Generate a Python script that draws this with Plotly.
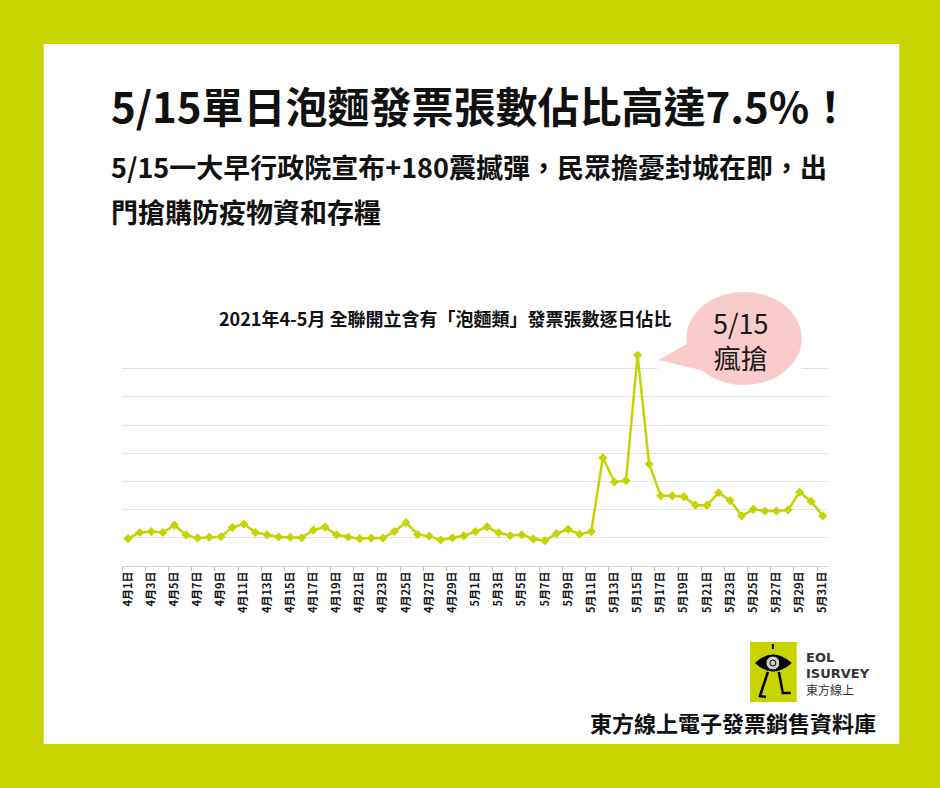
import pandas as pd
import plotly.graph_objects as go

# daily share (%) of PX Mart invoices containing instant noodles, 2021-04-01 .. 2021-05-31
dates = pd.date_range("2021-04-01", "2021-05-31", freq="D")
share_pct = [
    0.97, 1.19, 1.22, 1.19, 1.45, 1.10, 0.99, 1.02, 1.04, 1.37,
    1.49, 1.19, 1.11, 1.03, 1.02, 1.00, 1.28, 1.38, 1.11, 1.03,
    0.97, 0.99, 0.99, 1.23, 1.54, 1.12, 1.06, 0.92, 1.00, 1.07,
    1.22, 1.39, 1.18, 1.08, 1.11, 0.96, 0.90, 1.15, 1.30, 1.13,
    1.22, 3.84, 2.98, 3.03, 7.48, 3.62, 2.49, 2.49, 2.46, 2.16,
    2.16, 2.60, 2.32, 1.78, 2.01, 1.95, 1.95, 1.99, 2.62, 2.29,
    1.78,
]
tick_dates = dates[::2]
tick_labels = [
    "4月1日", "4月3日", "4月5日", "4月7日", "4月9日", "4月11日", "4月13日", "4月15日",
    "4月17日", "4月19日", "4月21日", "4月23日", "4月25日", "4月27日", "4月29日",
    "5月1日", "5月3日", "5月5日", "5月7日", "5月9日", "5月11日", "5月13日", "5月15日",
    "5月17日", "5月19日", "5月21日", "5月23日", "5月25日", "5月27日", "5月29日", "5月31日",
]

W, H = 940, 788
LIME = "#C8D400"
FONT = "Noto Sans CJK TC"


def px(x):
    return x / W


def py(y):
    return 1 - y / H


fig = go.Figure()
fig.add_trace(go.Scatter(
    x=dates, y=share_pct, mode="lines+markers",
    line=dict(color="#C5D300", width=2.5),
    marker=dict(symbol="diamond", size=7, color="#C5D300"),
    hoverinfo="x+y", showlegend=False,
))

shapes = [
    # white card
    dict(type="rect", xref="paper", yref="paper", layer="below",
         x0=px(40), x1=px(900), y0=py(744), y1=py(44),
         fillcolor="white", line=dict(width=0)),
    # white patch behind the bubble (hides gridlines)
    dict(type="rect", xref="paper", yref="paper", layer="above",
         x0=px(657), x1=px(802), y0=py(380), y1=py(332),
         fillcolor="white", line=dict(width=0)),
    # speech bubble
    dict(type="circle", xref="paper", yref="paper", layer="above",
         x0=px(686), x1=px(802), y0=py(385), y1=py(292),
         fillcolor="#FACBCB", line=dict(width=0)),
    dict(type="path", xref="paper", yref="paper", layer="above",
         path=f"M {px(658)},{py(360)} L {px(697)},{py(338)} L {px(708)},{py(372)} Z",
         fillcolor="#FACBCB", line=dict(width=0)),
    # logo
    dict(type="rect", xref="paper", yref="paper",
         x0=px(750), x1=px(797), y0=py(702), y1=py(642),
         fillcolor=LIME, line=dict(width=0)),
    dict(type="path", xref="paper", yref="paper",
         path=(f"M {px(755)},{py(663)} Q {px(773)},{py(646)} {px(792)},{py(663)} "
               f"Q {px(773)},{py(680)} {px(755)},{py(663)} Z"),
         fillcolor="black", line=dict(width=0)),
    dict(type="circle", xref="paper", yref="paper",
         x0=px(766), x1=px(780), y0=py(670), y1=py(656),
         fillcolor="#D0D0D0", line=dict(color="black", width=1)),
    dict(type="circle", xref="paper", yref="paper",
         x0=px(770), x1=px(776), y0=py(666), y1=py(660),
         fillcolor="#D0D0D0", line=dict(color="black", width=1)),
    dict(type="path", xref="paper", yref="paper",
         path=f"M {px(768)},{py(672)} L {px(760)},{py(696)} L {px(766)},{py(697)}",
         line=dict(color="black", width=2.5)),
    dict(type="path", xref="paper", yref="paper",
         path=f"M {px(779)},{py(672)} L {px(783)},{py(693)} L {px(791)},{py(693)}",
         line=dict(color="black", width=2.5)),
    dict(type="line", xref="paper", yref="paper",
         x0=px(773), x1=px(773), y0=py(649), y1=py(644),
         line=dict(color="black", width=2)),
]

annotations = [
    dict(text="<b>5/15單日泡麵發票張數佔比高達7.5%！</b>", x=px(106), y=py(105),
         xanchor="left", yanchor="middle", font=dict(size=42, color="#111")),
    dict(text="<b>5/15一大早行政院宣布+180震撼彈，民眾擔憂封城在即，出</b>", x=px(106), y=py(167),
         xanchor="left", yanchor="middle", font=dict(size=27, color="#111")),
    dict(text="<b>門搶購防疫物資和存糧</b>", x=px(106), y=py(211),
         xanchor="left", yanchor="middle", font=dict(size=27, color="#111")),
    dict(text="<b>2021年4-5月 全聯開立含有「泡麵類」發票張數逐日佔比</b>", x=px(443), y=py(318),
         xanchor="center", yanchor="middle", font=dict(size=18, color="#111")),
    dict(text="5/15<br>瘋搶", x=px(741), y=py(340), xanchor="center", yanchor="middle",
         font=dict(size=27, color="#1a1a1a")),
    dict(text="<b>EOL</b>", x=px(804), y=py(657), xanchor="left", yanchor="middle",
         font=dict(size=13, color="#333", family="DejaVu Sans")),
    dict(text="<b>ISURVEY</b>", x=px(804), y=py(673), xanchor="left", yanchor="middle",
         font=dict(size=13, color="#333", family="DejaVu Sans")),
    dict(text="東方線上", x=px(804), y=py(689), xanchor="left", yanchor="middle",
         font=dict(size=12, color="#333")),
    dict(text="<b>東方線上電子發票銷售資料庫</b>", x=px(879), y=py(722),
         xanchor="right", yanchor="middle", font=dict(size=22, color="#111")),
]
for a in annotations:
    a.update(xref="paper", yref="paper", showarrow=False)

fig.update_layout(
    width=W, height=H,
    margin=dict(l=0, r=0, t=0, b=0),
    paper_bgcolor=LIME,
    plot_bgcolor="rgba(0,0,0,0)",
    font=dict(family=FONT, color="#222"),
    shapes=shapes,
    annotations=annotations,
    xaxis=dict(
        domain=[px(119), px(829)],
        type="date",
        range=["2021-03-31 12:00", "2021-05-31 12:00"],
        tickvals=tick_dates, ticktext=[f"<b>{t}</b>" for t in tick_labels],
        tickangle=-90, tickfont=dict(size=11, color="#111"),
        ticks="", showgrid=False,
        showline=True, linecolor="#D9D9D9", linewidth=1,
        minor=dict(ticks="outside", ticklen=4, tickcolor="#BBBBBB",
                   tick0="2021-03-31 12:00", dtick=2 * 86400000, showgrid=False),
        fixedrange=True,
    ),
    yaxis=dict(
        domain=[py(566), py(340)],
        range=[0, 8.02], dtick=1,
        showticklabels=False, ticks="",
        showgrid=True, gridcolor="#E3E3E3", gridwidth=1,
        zeroline=False, showline=False,
        fixedrange=True,
    ),
)

# the page's default body margin would push the figure off the 940x788 window
fig.write_html("out.html", config=dict(displayModeBar=False),
               post_script="document.body.style.margin='0';document.body.style.overflow='hidden';")
